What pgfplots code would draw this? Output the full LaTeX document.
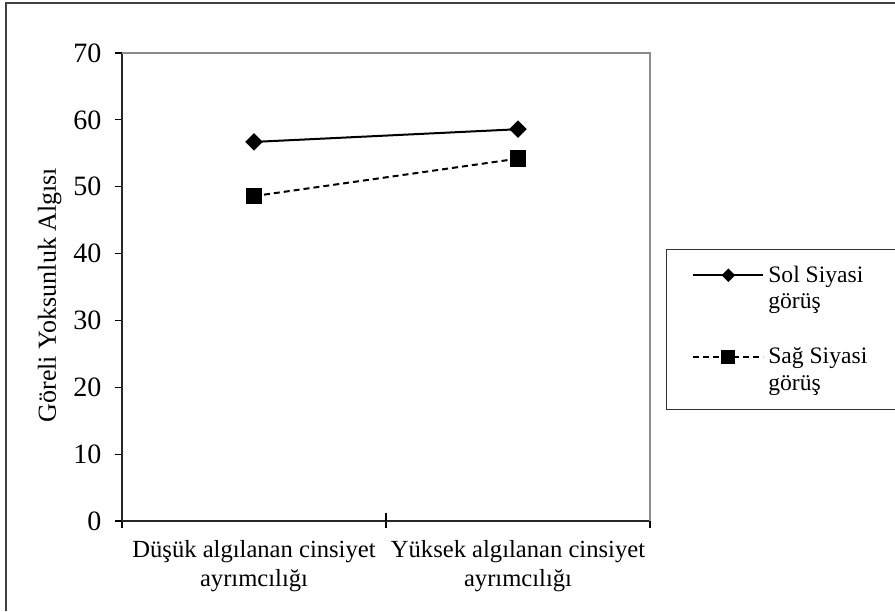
\documentclass[border=0pt]{standalone}
\usepackage{pgfplots}
\pgfplotsset{compat=1.18}
\usepackage{fontspec}
\setmainfont{Liberation Serif}

\pgfplotsset{
  midmark legend/.style={
    legend image code/.code={
      \draw[mark repeat=2, mark phase=2, ##1, mark size=#1]
        plot coordinates {(0pt,6.8pt) (17.5pt,6.8pt) (35pt,6.8pt)};}},
}

\begin{document}
\begin{tikzpicture}
\useasboundingbox (-61pt,-45pt) rectangle (386.5pt,260.5pt);
% outer frame (only left and top edges are visible)
\draw[line width=0.8pt, black!75] (-58pt,-45pt) -- (-58pt,259pt) -- (386.5pt,259pt);
\begin{axis}[
    at={(0,0)}, anchor=south west,
    scale only axis,
    width=264pt, height=234pt,
    xmin=-0.5, xmax=1.5,
    ymin=0, ymax=70,
    ytick={0,10,...,70},
    xtick={-0.5,0.5,1.5},
    x tick label as interval,
    xticklabels={{Düşük algılanan cinsiyet\\ayrımcılığı},{Yüksek algılanan cinsiyet\\ayrımcılığı}},
    axis x line*=bottom,
    axis y line*=left,
    axis line style={line width=0.8pt, black!85, -},
    tick style={black, line width=0.6pt},
    tick align=outside,
    major tick length=3.3pt,
    /pgf/number format/assume math mode=true,
    yticklabel style={font=\fontsize{14}{16}\selectfont, xshift=-3.5pt},
    xticklabel style={font=\fontsize{12.3}{14.5}\selectfont, align=center, yshift=-3pt},
    ylabel={Göreli Yoksunluk Algısı},
    ylabel style={font=\fontsize{13}{15}\selectfont, yshift=-1pt, xshift=-4pt},
    clip=false,
    legend style={at={(1.03,0.409)}, anchor=west, draw=black!80, line width=0.5pt,
        font=\fontsize{11.8}{13.2}\selectfont, cells={align=left, anchor=west},
        inner xsep=13pt, inner ysep=6pt, row sep=14pt},
]
\addplot[black, line width=1pt, mark=square*, mark size=2.6pt, mark options={solid, rotate=45},
    midmark legend=1.9pt]
    coordinates {(0,56.7) (1,58.6)};
\addplot[black, line width=1pt, dash pattern=on 3pt off 2pt, mark=square*, mark size=3.6pt, mark options={solid},
    midmark legend=3pt]
    coordinates {(0,48.6) (1,54.2)};
\legend{{Sol Siyasi\\görüş},{Sağ Siyasi\\görüş}}
\draw[line width=0.8pt, black!45] (rel axis cs:0,1) -- (rel axis cs:1,1) -- (rel axis cs:1,0);
\draw[line width=0.6pt, black] (axis cs:0.5,0) -- ([yshift=4pt]axis cs:0.5,0);
\end{axis}
\end{tikzpicture}
\end{document}
